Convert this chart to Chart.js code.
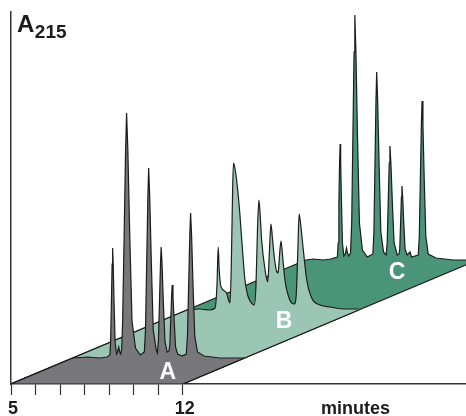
<!DOCTYPE html>
<html><head><meta charset="utf-8">
<script src="https://cdn.jsdelivr.net/npm/chart.js@4/dist/chart.umd.min.js"></script>
<style>html,body{margin:0;padding:0;background:#fff;}canvas{display:block;}</style>
</head><body>
<canvas id="c" width="466" height="416"></canvas>
<script>
// ---------------- data ----------------
const sampleNames = ['A', 'B', 'C'];
const sampleDepth = [26, 74, 124];          // baseline level of each sample's plane
const planeTimeRange = [5, 12];              // minutes covered by each plane
const xTickValues = [5, 6, 7, 8, 9, 10, 11, 12];
const xTickLabels = ['5', '', '', '', '', '', '', '12'];
const xTitle = 'minutes';
const yTitleMain = 'A';
const yTitleSub = '215';

// sample A chromatogram (retention time in minutes, absorbance height)
const traceA_time = [5.00, 5.60, 6.10, 6.40, 6.51, 6.54, 6.57, 6.60, 6.62, 6.644, 6.68, 6.722, 6.78, 6.82, 6.87, 6.91, 6.95, 6.99, 7.03, 7.09, 7.15, 7.19, 7.242, 7.32, 7.411, 7.554, 7.75, 7.914, 7.962, 8.01, 8.058, 8.09, 8.134, 8.20, 8.277, 8.398, 8.446, 8.488, 8.53, 8.572, 8.60, 8.636, 8.69, 8.753, 8.84, 8.918, 8.954, 8.99, 9.026, 9.05, 9.082, 9.13, 9.186, 9.274, 9.45, 9.624, 9.672, 9.72, 9.768, 9.80, 9.84, 9.90, 9.97, 10.08, 10.35, 11.00, 12.00];
const traceA_height = [0, 1, 0, 1, 3, 16, 55, 94, 110, 94, 55, 16, 4, 6, 11, 6, 4, 8, 37, 122, 208, 245, 208, 122, 37, 10, 3, 6, 28, 95, 161, 190, 161, 95, 28, 8, 5, 17, 55, 94, 111, 94, 55, 17, 6, 7, 13, 37, 62, 73, 62, 37, 11, 4, 2, 4, 22, 72, 123, 145, 123, 72, 22, 6, 2, 0, 0];

// sample B chromatogram
const traceB_time = [5.00, 5.50, 5.90, 6.14, 6.22, 6.27, 6.31, 6.36, 6.41, 6.52, 6.61, 6.69, 6.75, 6.80, 6.85, 6.89, 6.95, 7.02, 7.13, 7.23, 7.36, 7.47, 7.57, 7.74, 7.81, 7.87, 7.93, 7.98, 8.04, 8.18, 8.29, 8.36, 8.42, 8.48, 8.56, 8.66, 8.71, 8.77, 8.83, 8.88, 8.99, 9.19, 9.37, 9.45, 9.51, 9.57, 9.62, 9.74, 9.88, 10.08, 10.42, 10.83, 11.50, 12.00];
const traceB_height = [0, 1, 0, 2, 25, 63, 40, 26, 22, 19, 17, 10, 7, 40, 110, 147, 142, 130, 103, 70, 30, 15, 9, 5, 25, 80, 110, 95, 70, 40, 28, 60, 86, 72, 52, 38, 37, 55, 69, 58, 30, 10, 6, 15, 55, 96, 88, 60, 30, 12, 5, 3, 1, 1];

// sample C chromatogram
const traceC_time = [5.00, 5.30, 5.70, 6.00, 6.28, 6.31, 6.34, 6.37, 6.39, 6.412, 6.445, 6.484, 6.544, 6.60, 6.65, 6.69, 6.74, 6.814, 6.862, 6.91, 6.958, 6.99, 7.034, 7.10, 7.177, 7.298, 7.50, 7.726, 7.768, 7.81, 7.852, 7.88, 7.92, 7.98, 8.05, 8.16, 8.266, 8.308, 8.35, 8.392, 8.42, 8.46, 8.52, 8.59, 8.72, 8.79, 8.822, 8.855, 8.888, 8.91, 8.94, 8.985, 9.038, 9.12, 9.20, 9.24, 9.30, 9.576, 9.618, 9.66, 9.702, 9.73, 9.766, 9.82, 9.883, 9.98, 10.30, 11.00, 12.00];
const traceC_height = [0, 1, 0, 1, 3, 17, 58, 99, 116, 99, 58, 17, 4, 6, 12, 7, 4, 7, 37, 122, 208, 245, 208, 122, 37, 10, 3, 6, 28, 94, 160, 188, 160, 94, 28, 8, 5, 17, 57, 97, 114, 97, 57, 17, 5, 6, 11, 37, 63, 74, 63, 37, 11, 5, 7, 8, 3, 5, 24, 80, 135, 159, 135, 80, 24, 6, 2, 0, 0];

// ---------------- layout / style ----------------
const depthSkew = 0.097;                  // x shift (minutes) per unit of depth: oblique projection
const xMax = 23.55;
const yMax = 372;
const xTitleAt = 18.96;
const labelTime = [10.33, 10.12, 9.97];   // where the plane letters sit (plane minutes)
const labelDepth = [11, 62, 111];
const planeColors = ['#78787c', '#9cc6b4', '#4a9577'];
const inkColor = '#1c1c1c';
const FONT = '"Liberation Sans", Arial, Helvetica, sans-serif';

const traces = [[traceA_time, traceA_height], [traceB_time, traceB_height], [traceC_time, traceC_height]];
const proj = (t, d) => t + depthSkew * d;

const datasets = [];
sampleNames.forEach((name, i) => {
  const d = sampleDepth[i];
  const [tt, hh] = traces[i];
  datasets.push({
    label: name + ' trace',
    data: tt.map((t, k) => ({ x: proj(t, d), y: d + hh[k] })),
    borderColor: inkColor, borderWidth: 1.2,
    backgroundColor: planeColors[i],
    fill: { value: d },
    pointRadius: 0,
    cubicInterpolationMode: i === 1 ? 'monotone' : 'default',
    tension: 0,
    order: 2 * i + 1
  });
  const [t0, t1] = planeTimeRange;
  datasets.push({
    label: name + ' plane',
    data: [{ x: proj(t0, d), y: d }, { x: t0, y: 0 }, { x: t1, y: 0 }, { x: proj(t1, d), y: d }],
    borderColor: inkColor, borderWidth: 1.2,
    backgroundColor: planeColors[i],
    fill: 'shape',
    pointRadius: 0,
    tension: 0,
    order: 2 * i + 2
  });
});

const textPlugin = {
  id: 'texts',
  afterDraw(chart) {
    const { ctx, scales: { x, y }, chartArea } = chart;
    ctx.save();
    ctx.fillStyle = '#ffffff';
    ctx.font = 'bold 23px ' + FONT;
    ctx.textAlign = 'center';
    ctx.textBaseline = 'middle';
    sampleNames.forEach((n, i) => {
      ctx.fillText(n, x.getPixelForValue(proj(labelTime[i], labelDepth[i])), y.getPixelForValue(labelDepth[i]));
    });
    ctx.fillStyle = inkColor;
    ctx.textAlign = 'left';
    ctx.textBaseline = 'alphabetic';
    ctx.font = 'bold 24px ' + FONT;
    const ax = chartArea.left + 6;
    ctx.fillText(yTitleMain, ax, 32);
    const w = ctx.measureText(yTitleMain).width;
    ctx.font = 'bold 19px ' + FONT;
    ctx.fillText(yTitleSub, ax + w + 0.5, 38);
    ctx.restore();
  }
};

new Chart(document.getElementById('c'), {
  type: 'line',
  data: { datasets },
  options: {
    responsive: false,
    devicePixelRatio: 1,
    animation: false,
    layout: { padding: { left: 11, top: 12, right: 0, bottom: 0 } },
    plugins: { legend: { display: false }, tooltip: { enabled: false } },
    scales: {
      x: {
        type: 'linear', min: planeTimeRange[0], max: xMax, z: 1,
        afterBuildTicks: s => { s.ticks = xTickValues.concat([xTitleAt]).map(v => ({ value: v })); },
        afterFit: s => { s.height = 32; },
        ticks: {
          autoSkip: false, maxRotation: 0, padding: 3, labelOffset: 2, color: inkColor,
          font: { family: FONT, size: 18, weight: 'bold' },
          callback: (v) => { const i = xTickValues.indexOf(v); return i >= 0 ? xTickLabels[i] : (v === xTitleAt ? xTitle : ''); }
        },
        grid: {
          display: true, drawOnChartArea: false, drawTicks: true, tickLength: 11, tickWidth: 1.2,
          tickColor: c => (c.tick && c.tick.value > planeTimeRange[1]) ? 'rgba(0,0,0,0)' : '#333'
        },
        border: { display: true, color: '#333', width: 1.5 }
      },
      y: {
        type: 'linear', min: 0, max: yMax, z: 1,
        afterFit: s => { s.width = 0; },
        ticks: { display: false },
        grid: { display: false },
        border: { display: true, color: '#333', width: 1.5 }
      }
    }
  },
  plugins: [textPlugin]
});
</script>
</body></html>
